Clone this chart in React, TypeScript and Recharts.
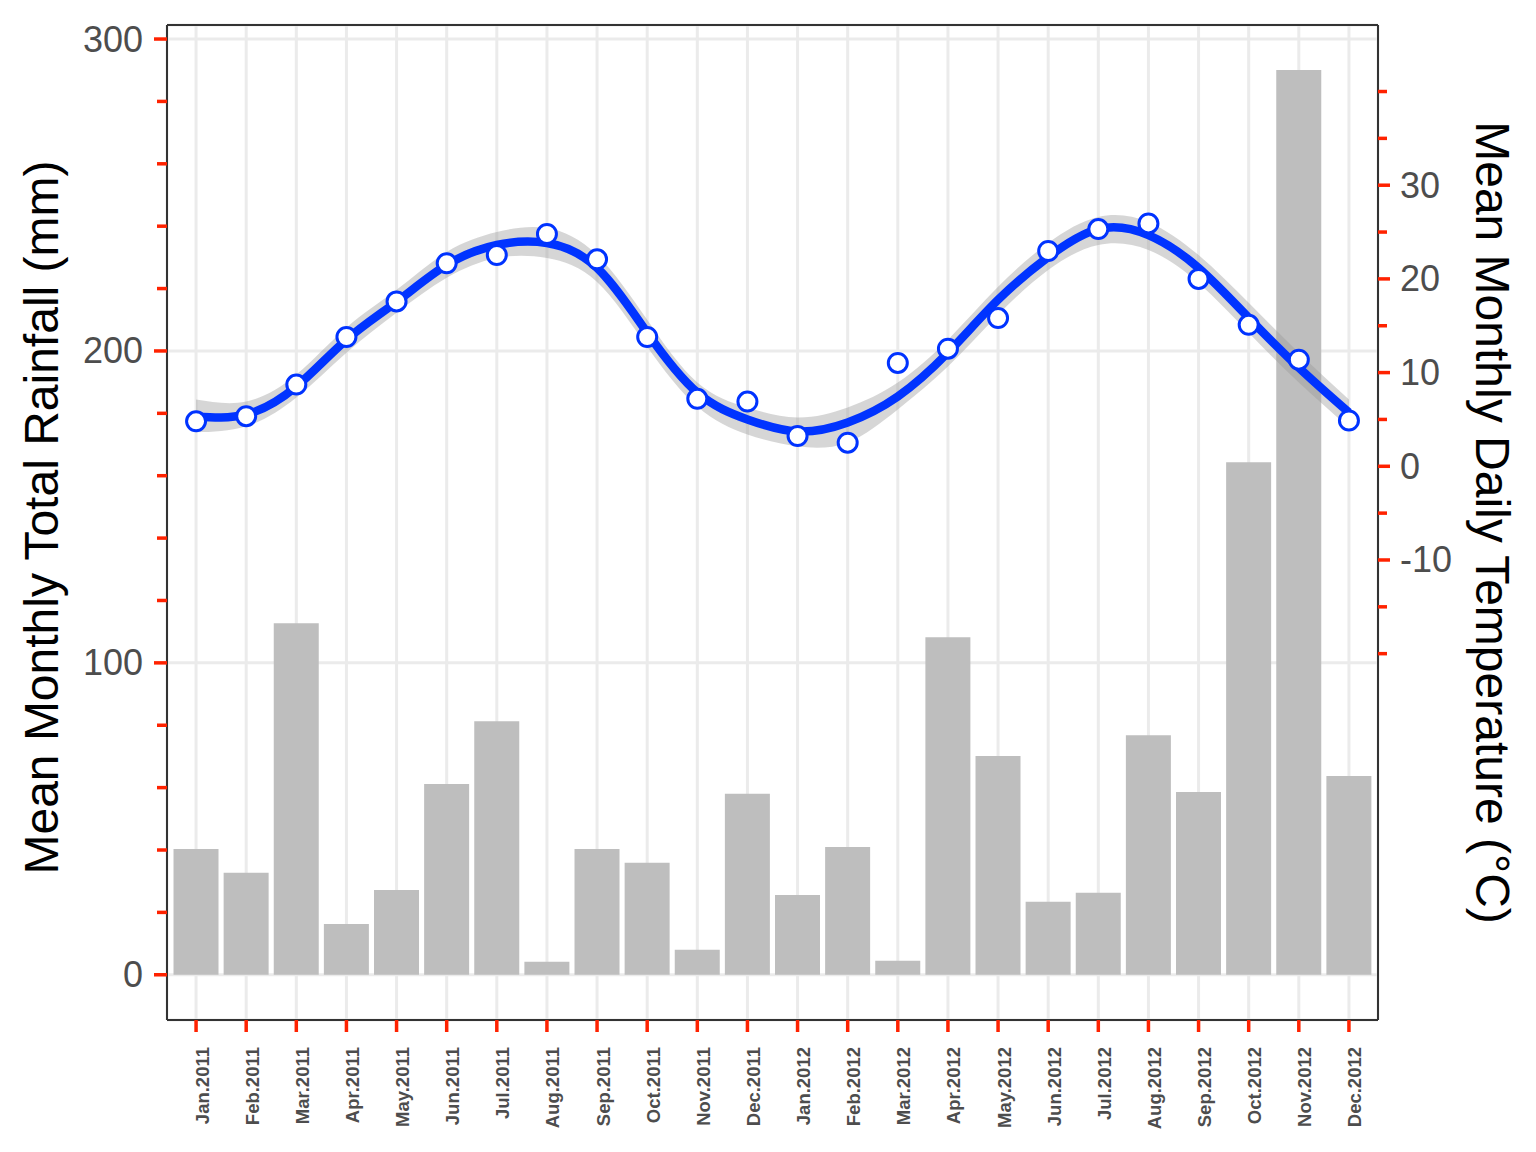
import React from "react";
import {
  ComposedChart,
  Bar,
  Line,
  Area,
  XAxis,
  YAxis,
  CartesianGrid,
} from "recharts";

const months = [
  "Jan.2011", "Feb.2011", "Mar.2011", "Apr.2011", "May.2011", "Jun.2011",
  "Jul.2011", "Aug.2011", "Sep.2011", "Oct.2011", "Nov.2011", "Dec.2011",
  "Jan.2012", "Feb.2012", "Mar.2012", "Apr.2012", "May.2012", "Jun.2012",
  "Jul.2012", "Aug.2012", "Sep.2012", "Oct.2012", "Nov.2012", "Dec.2012",
];

// Mean monthly total rainfall (mm) – bars, left axis
const rainfall = [
  40.3, 32.7, 112.7, 16.3, 27.2, 61.2, 81.3, 4.2, 40.3, 35.9, 8.0, 58.0,
  25.6, 41.0, 4.5, 108.2, 70.1, 23.4, 26.3, 76.8, 58.6, 164.3, 290.1, 63.7,
];

// Mean monthly daily temperature (°C) – points, right axis
const temperature = [
  4.8, 5.35, 8.72, 13.8, 17.6, 21.67, 22.55, 24.79, 22.09, 13.8, 7.2, 6.91,
  3.23, 2.52, 11.03, 12.55, 15.82, 22.98, 25.32, 25.92, 20.0, 15.1, 11.38, 4.89,
];

// Smoothed temperature fit read at each month
const smoothFit = [
  5.32, 5.53, 8.51, 13.51, 17.55, 21.49, 23.62, 23.83, 21.17, 14.26, 7.87, 5.0,
  3.72, 4.68, 7.45, 12.13, 17.77, 22.34, 25.32, 24.68, 21.17, 15.85, 10.53, 5.74,
];

// Confidence band of the fit
const bandLow = [
  3.62, 4.26, 7.34, 12.13, 16.38, 20.11, 22.23, 22.23, 19.68, 12.77, 6.38, 3.4,
  2.13, 2.55, 6.06, 10.64, 16.17, 20.96, 23.62, 23.09, 19.57, 14.26, 8.94, 4.15,
];
const bandHigh = [
  7.13, 6.91, 9.79, 14.79, 18.83, 22.87, 25.0, 25.43, 22.55, 15.64, 8.94, 6.28,
  5.21, 6.28, 8.94, 13.51, 19.15, 23.83, 26.6, 26.06, 22.55, 17.45, 12.13, 7.13,
];

const rainTicks = [0, 20, 40, 60, 80, 100, 120, 140, 160, 180, 200, 220, 240, 260, 280, 300];
const rainLabelled = [0, 100, 200, 300];
const tempTicks = [-20, -15, -10, -5, 0, 5, 10, 15, 20, 25, 30, 35, 40];
const tempLabelled = [-10, 0, 10, 20, 30];

const data = months.map((m, i) => ({
  month: m,
  rain: rainfall[i],
  temp: temperature[i],
  fit: smoothFit[i],
  band: [bandLow[i], bandHigh[i]],
}));

const FONT = "'Liberation Sans', Arial, Helvetica, sans-serif";
const RED = "#ff2200";
const BLUE = "#0033ff";
const TICK_TEXT = "#4d4d4d";

const LeftTick = (props: any) => {
  const { x, y, payload } = props;
  const major = rainLabelled.includes(payload.value);
  return (
    <g>
      <line x1={x - (major ? 13 : 10)} x2={x} y1={y} y2={y} stroke={RED} strokeWidth={3.5} />
      {major && (
        <text x={x - 24} y={y} textAnchor="end" dominantBaseline="central"
          fontSize={36} fill={TICK_TEXT} fontFamily={FONT}>
          {payload.value}
        </text>
      )}
    </g>
  );
};

const RightTick = (props: any) => {
  const { x, y, payload } = props;
  const major = tempLabelled.includes(payload.value);
  return (
    <g>
      <line x1={x} x2={x + (major ? 12 : 9)} y1={y} y2={y} stroke={RED} strokeWidth={3.5} />
      {major && (
        <text x={x + 22} y={y} textAnchor="start" dominantBaseline="central"
          fontSize={36} fill={TICK_TEXT} fontFamily={FONT}>
          {payload.value}
        </text>
      )}
    </g>
  );
};

const BottomTick = (props: any) => {
  const { x, y, payload } = props;
  const tx = x + 6;
  const ty = y + 27;
  return (
    <g>
      <line x1={x} x2={x} y1={y} y2={y + 12} stroke={RED} strokeWidth={3.5} />
      <text x={tx} y={ty} transform={`rotate(-90, ${tx}, ${ty})`} textAnchor="end"
        dominantBaseline="central" fontSize={18.5} fontWeight="bold" fill={TICK_TEXT}
        fontFamily={FONT}>
        {payload.value}
      </text>
    </g>
  );
};

const LeftTitle = (props: any) => {
  const vb = props.viewBox || {};
  const cx = vb.x - 9;
  const cy = vb.y + vb.height / 2 - 5;
  return (
    <text x={cx} y={cy} transform={`rotate(-90, ${cx}, ${cy})`} textAnchor="middle"
      fontSize={48} fill="#000" fontFamily={FONT}>
      Mean Monthly Total Rainfall (mm)
    </text>
  );
};

const RightTitle = (props: any) => {
  const vb = props.viewBox || {};
  const cx = vb.x + 98;
  const cy = vb.y + vb.height / 2;
  return (
    <text x={cx} y={cy} transform={`rotate(90, ${cx}, ${cy})`} textAnchor="middle"
      fontSize={48} fill="#000" fontFamily={FONT}>
      Mean Monthly Daily Temperature (°C)
    </text>
  );
};

export default function App() {
  return (
    <div style={{ position: "absolute", left: 0, top: 0, width: 1536, height: 1152, background: "#fff" }}>
      <ComposedChart
        width={1536}
        height={1152}
        data={data}
        margin={{ top: 24, right: 8, bottom: 12, left: 67 }}
        barCategoryGap="5%"
      >
        <CartesianGrid yAxisId="grid" stroke="#ebebeb" strokeWidth={3} />
        <XAxis
          dataKey="month"
          interval={0}
          height={120}
          padding={{ left: 4, right: 4 }}
          tickSize={0}
          tickMargin={0}
          tickLine={false}
          tick={<BottomTick />}
          axisLine={{ stroke: "#333333", strokeWidth: 2 }}
        />
        <XAxis
          xAxisId="top"
          dataKey="month"
          orientation="top"
          height={1}
          tick={false}
          tickLine={false}
          axisLine={{ stroke: "#333333", strokeWidth: 2 }}
        />
        <YAxis
          yAxisId="left"
          type="number"
          width={100}
          domain={[-14.5, 304.5]}
          ticks={rainTicks}
          interval={0}
          allowDataOverflow
          tickSize={0}
          tickMargin={0}
          tickLine={false}
          tick={<LeftTick />}
          axisLine={{ stroke: "#333333", strokeWidth: 2 }}
          label={{ content: (p: any) => <LeftTitle {...p} /> }}
        />
        <YAxis
          yAxisId="grid"
          hide
          width={0}
          type="number"
          domain={[-14.5, 304.5]}
          ticks={rainLabelled}
          allowDataOverflow
        />
        <YAxis
          yAxisId="right"
          orientation="right"
          type="number"
          width={150}
          domain={[-59.1, 47.1]}
          ticks={tempTicks}
          interval={0}
          allowDataOverflow
          tickSize={0}
          tickMargin={0}
          tickLine={false}
          tick={<RightTick />}
          axisLine={{ stroke: "#333333", strokeWidth: 2 }}
          label={{ content: (p: any) => <RightTitle {...p} /> }}
        />
        <Bar
          yAxisId="left"
          dataKey="rain"
          fill="#bebebe"
          isAnimationActive={false}
          zIndex={300}
        />
        <Area
          yAxisId="right"
          dataKey="band"
          type="natural"
          fill="#999999"
          fillOpacity={0.4}
          stroke="none"
          isAnimationActive={false}
          activeDot={false}
          zIndex={350}
        />
        <Line
          yAxisId="right"
          dataKey="fit"
          type="natural"
          stroke={BLUE}
          strokeWidth={8.5}
          dot={false}
          activeDot={false}
          isAnimationActive={false}
          zIndex={400}
        />
        <Line
          yAxisId="right"
          dataKey="temp"
          stroke="none"
          strokeWidth={0}
          dot={{ r: 9.5, fill: "#ffffff", stroke: BLUE, strokeWidth: 3 }}
          activeDot={false}
          isAnimationActive={false}
          zIndex={450}
        />
      </ComposedChart>
    </div>
  );
}
